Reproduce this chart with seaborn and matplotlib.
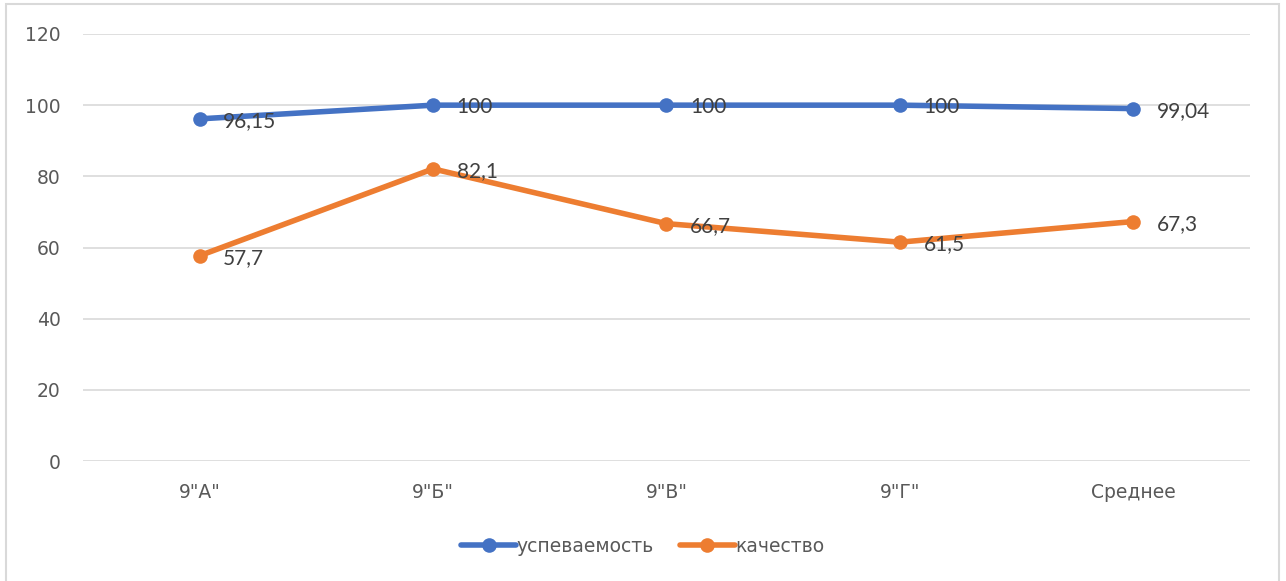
import pandas as pd
import seaborn as sns
import matplotlib.pyplot as plt
from matplotlib.patches import Rectangle

# данные
classes = ['9"А"', '9"Б"', '9"В"', '9"Г"', 'Среднее']
uspev = [96.15, 100, 100, 100, 99.04]
kach = [57.7, 82.1, 66.7, 61.5, 67.3]
uspev_labels = ['96,15', '100', '100', '100', '99,04']
kach_labels = ['57,7', '82,1', '66,7', '61,5', '67,3']
series_names = ['успеваемость', 'качество']

df = pd.DataFrame({
    'класс': classes * 2,
    'значение': uspev + kach,
    'ряд': [series_names[0]] * 5 + [series_names[1]] * 5,
})

sns.set_theme(style='white')
plt.rcParams['font.family'] = ['DejaVu Sans']

fig = plt.figure(figsize=(12.86, 5.81), dpi=100)
ax = fig.add_axes([0.0645, 0.2065, 0.9075, 0.735])

palette = {'успеваемость': '#4472C4', 'качество': '#ED7D31'}
sns.lineplot(data=df, x='класс', y='значение', hue='ряд', palette=palette,
             marker='o', markersize=10.5, markeredgewidth=0, linewidth=4,
             sort=False, ax=ax, legend=False)

# подписи данных
for vals, labs in [(uspev, uspev_labels), (kach, kach_labels)]:
    for i, (v, t) in enumerate(zip(vals, labs)):
        ax.annotate(t, (i, v), xytext=(17, -1.5), textcoords='offset points',
                    ha='left', va='center', fontsize=15, color='#404040',
                    family=['Lato', 'DejaVu Sans'])

ax.set_xlim(-0.5, 4.5)
ax.set_ylim(0, 120)
ax.set_yticks(range(0, 121, 20))
ax.grid(axis='y', color='#D9D9D9', linewidth=1.2)
ax.set_axisbelow(True)
for s in ax.spines.values():
    s.set_visible(False)
ax.tick_params(axis='y', length=0, pad=16, labelsize=13.5, labelcolor='#595959')
ax.tick_params(axis='x', length=0, pad=16, labelsize=13.5, labelcolor='#595959')
ax.set_xlabel('')
ax.set_ylabel('')

# легенда
handles = [plt.Line2D([], [], color=palette[n], linewidth=4, marker='o',
                      markersize=10.5, markeredgewidth=0) for n in series_names]
fig.legend(handles, series_names, loc='center', bbox_to_anchor=(0.5, 0.06),
           ncol=2, frameon=False, fontsize=13.5, handlelength=2.9,
           handletextpad=0.05, columnspacing=1.4, labelcolor='#595959')

# рамка диаграммы
fig.patches.append(Rectangle((0.0045, -0.05), 0.99, 1.043, transform=fig.transFigure,
                             fill=False, edgecolor='#D9D9D9', linewidth=1.5))

fig.savefig('out.png', dpi=100)
